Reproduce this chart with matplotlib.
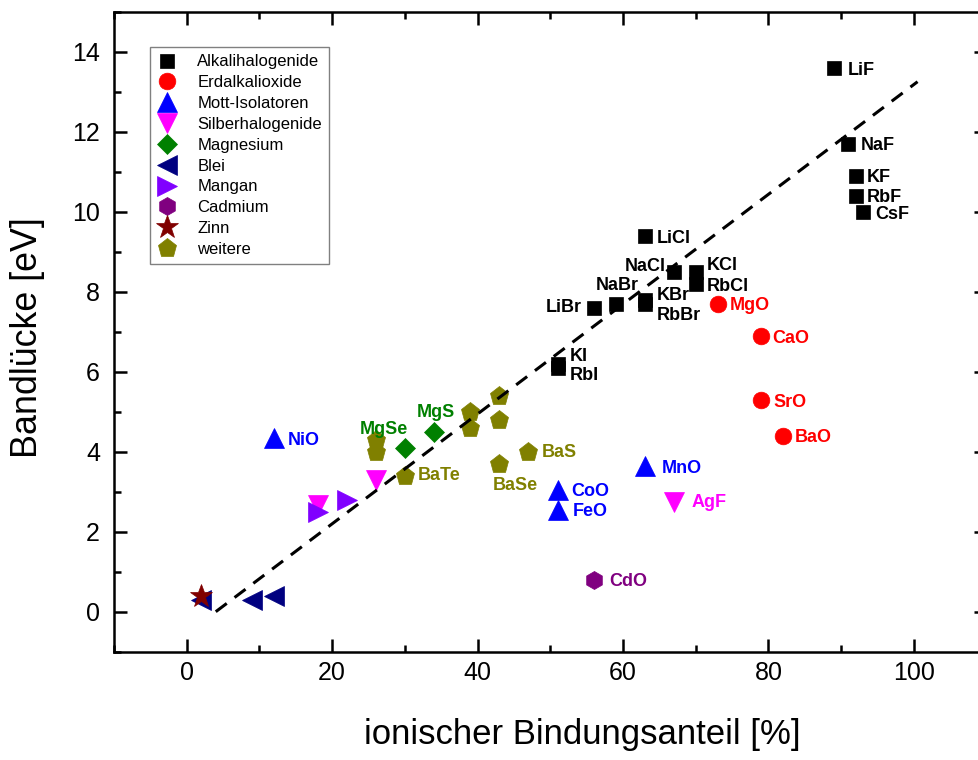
import numpy as np
import matplotlib
matplotlib.use("Agg")
import matplotlib.pyplot as plt

plt.rcParams['font.family'] = ['Liberation Sans', 'DejaVu Sans']

# data
alkali_x = [89, 91, 92, 92, 93, 63, 67, 70, 70, 59, 56, 63, 63, 51, 51]
alkali_y = [13.6, 11.7, 10.9, 10.4, 10.0, 9.4, 8.5, 8.5, 8.2, 7.7, 7.6, 7.8, 7.7, 6.2, 6.1]
alkali_names = ['LiF', 'NaF', 'KF', 'RbF', 'CsF', 'LiCl', 'NaCl', 'KCl', 'RbCl',
                'NaBr', 'LiBr', 'KBr', 'RbBr', 'KI', 'RbI']

erd_x = [73, 79, 79, 82]
erd_y = [7.7, 6.9, 5.3, 4.4]
erd_names = ['MgO', 'CaO', 'SrO', 'BaO']

mott_x = [12, 63, 51, 51]
mott_y = [4.35, 3.65, 3.05, 2.55]
mott_names = ['NiO', 'MnO', 'CoO', 'FeO']

silber_x = [18, 26, 67]
silber_y = [2.68, 3.3, 2.75]
silber_names = ['', '', 'AgF']

mg_x = [30, 34]
mg_y = [4.1, 4.5]
mg_names = ['MgSe', 'MgS']

blei_x = [2, 9, 12]
blei_y = [0.3, 0.3, 0.4]

mangan_x = [18, 22]
mangan_y = [2.5, 2.8]

cd_x = [56]
cd_y = [0.8]
cd_names = ['CdO']

zinn_x = [2]
zinn_y = [0.4]

weitere_x = [26, 26, 30, 39, 39, 43, 43, 47, 43]
weitere_y = [4.3, 4.0, 3.4, 5.0, 4.6, 5.4, 4.8, 4.0, 3.7]
weitere_names = ['', '', 'BaTe', '', '', '', '', 'BaS', 'BaSe']

fit_x = [4, 100.5]
fit_y = [0.0, 13.25]

# label offsets in points (dx, dy, ha)
offsets = {
    'LiF': (9.7, -1.8, 'left'), 'NaF': (9, -1, 'left'), 'KF': (8, -1, 'left'),
    'RbF': (8, -1, 'left'), 'CsF': (8.6, -2, 'left'), 'LiCl': (8.6, -2, 'left'),
    'NaCl': (-5.8, 4, 'right'), 'KCl': (7.6, 4.7, 'left'), 'RbCl': (7.6, -1.8, 'left'),
    'NaBr': (1.4, 13.3, 'center'), 'LiBr': (-8.6, 0.4, 'right'),
    'KBr': (8.6, 2.9, 'left'), 'RbBr': (8.6, -8.3, 'left'),
    'KI': (8.6, 5.4, 'left'), 'RbI': (8.6, -5.8, 'left'),
    'MgO': (8.6, -1.1, 'left'), 'CaO': (7.9, -1.8, 'left'), 'SrO': (8.6, -1.8, 'left'),
    'BaO': (8.6, -1.4, 'left'), 'NiO': (9.7, -2.2, 'left'), 'MnO': (11.9, -1.8, 'left'),
    'CoO': (10, -1.4, 'left'), 'FeO': (10.8, -1.1, 'left'), 'AgF': (12.6, -0.7, 'left'),
    'CdO': (10.8, -1.1, 'left'), 'MgS': (1.4, 14, 'center'), 'MgSe': (-15.1, 13.3, 'center'),
    'BaTe': (9, 0, 'left'), 'BaS': (9.4, -0.4, 'left'), 'BaSe': (11.2, -15.8, 'center'),
}

groups = [
    ('Alkalihalogenide', alkali_x, alkali_y, alkali_names, 's', '#000000', 10.5),
    ('Erdalkalioxide', erd_x, erd_y, erd_names, 'o', '#ff0000', 12),
    ('Mott-Isolatoren', mott_x, mott_y, mott_names, '^', '#0000ff', 14),
    ('Silberhalogenide', silber_x, silber_y, silber_names, 'v', '#ff00ff', 14),
    ('Magnesium', mg_x, mg_y, mg_names, 'D', '#008000', 10.5),
    ('Blei', blei_x, blei_y, None, '<', '#000080', 14),
    ('Mangan', mangan_x, mangan_y, None, '>', '#8000ff', 14),
    ('Cadmium', cd_x, cd_y, cd_names, 'h', '#800080', 13),
    ('Zinn', zinn_x, zinn_y, None, '*', '#800000', 17),
    ('weitere', weitere_x, weitere_y, weitere_names, 'p', '#808000', 14),
]

fig = plt.figure(figsize=(9.79, 7.6), dpi=100)
ax = fig.add_axes([0.1164, 0.1425, 0.8914, 0.8421])

for label, xs, ys, names, mk, col, ms in groups:
    ax.plot(xs, ys, linestyle='none', marker=mk, color=col, markersize=ms,
            markeredgecolor=col, markeredgewidth=0.5, label=label, zorder=3)
    if names is None:
        continue
    for x, y, n in zip(xs, ys, names):
        if not n:
            continue
        dx, dy, ha = offsets[n]
        ax.annotate(n, (x, y), xytext=(dx, dy), textcoords='offset points',
                    ha=ha, va='center', color=col, fontsize=13, fontweight='bold',
                    zorder=4)

ax.plot(fit_x, fit_y, color='black', linewidth=2.2, dashes=(4.5, 3.2), zorder=5)

ax.set_xlim(-10, 110)
ax.set_ylim(-1, 15)
ax.set_xticks([0, 20, 40, 60, 80, 100])
ax.set_xticks(np.arange(-10, 111, 20), minor=True)
ax.set_yticks(np.arange(0, 15, 2))
ax.set_yticks(np.arange(-1, 16, 2), minor=True)
ax.tick_params(which='both', direction='in', top=True, right=True, width=1.8)
ax.tick_params(which='major', length=9.5, labelsize=18)
ax.tick_params(axis='x', which='major', pad=7)
ax.tick_params(axis='y', which='major', pad=10)
ax.tick_params(which='minor', length=5)
for sp in ax.spines.values():
    sp.set_linewidth(1.8)

ax.set_xlabel('ionischer Bindungsanteil [%]', fontsize=25)
ax.xaxis.set_label_coords(0.537, -0.104)
ax.set_ylabel('Bandlücke [eV]', fontsize=25.8)
ax.yaxis.set_label_coords(-0.079, 0.49)

leg = ax.legend(loc='upper left', bbox_to_anchor=(0.041, 0.945), borderaxespad=0,
                fontsize=12, frameon=True, fancybox=False, framealpha=1,
                edgecolor='#808080', handlelength=1.2, handletextpad=1.2,
                labelspacing=0.35, borderpad=0.45, numpoints=1)
leg.get_frame().set_linewidth(1.0)

fig.savefig('out.png', dpi=100)
